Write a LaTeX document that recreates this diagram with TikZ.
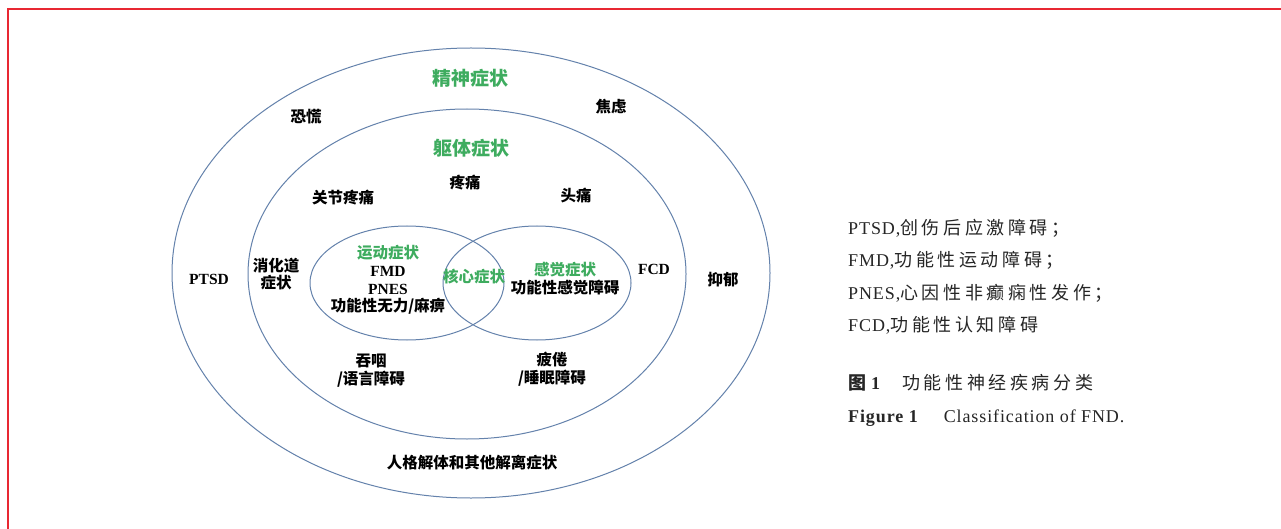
\documentclass[tikz,border=0pt]{standalone}
\usepackage{fontspec}
\setmainfont{Liberation Serif}
\newfontfamily\cjk{Noto Sans CJK SC}
\newfontfamily\cjkls[LetterSpace=20]{Noto Sans CJK SC}
\newfontfamily\serls[LetterSpace=5]{Liberation Serif}
\definecolor{fndgreen}{RGB}{62,172,95}
\definecolor{ringcol}{RGB}{100,130,172}
\definecolor{framered}{RGB}{232,40,50}
\newcommand\lt[1]{{\rmfamily\bfseries #1}}
\tikzset{
  lbl/.style={font=\cjk\bfseries\fontsize{15.5}{17.7}\selectfont, align=center, inner sep=0pt, text=black},
  grn/.style={lbl, text=fndgreen},
  title/.style={grn, font=\cjk\bfseries\fontsize{19}{21}\selectfont},
  ring/.style={draw=ringcol, line width=1pt},
  note/.style={anchor=west, inner sep=0pt, font=\fontsize{18}{20}\selectfont, text=black!85},
}
\begin{document}
\begin{tikzpicture}[x=1pt,y=-1pt]
\useasboundingbox (0,0) rectangle (1281,529);
\fill[white] (0,0) rectangle (1281,529);
% frame
\draw[framered, line width=2.2pt] (8,529) -- (8,9) -- (1281,9);
% rings
\draw[ring] (471,273) ellipse [x radius=299pt, y radius=225pt];
\draw[ring] (467,274) ellipse [x radius=219pt, y radius=165pt];
\draw[ring] (407,283) ellipse [x radius=97pt, y radius=57pt];
\draw[ring] (537,283) ellipse [x radius=94pt, y radius=57pt];
% labels
\node[title] (psy) at (470,78) {精神症状};
\node[lbl] (panic) at (306,117) {恐慌};
\node[lbl] (anx) at (611,107) {焦虑};
\node[title] (som) at (471,148) {躯体症状};
\node[lbl] (pain) at (465,183) {疼痛};
\node[lbl] (joint) at (343,198) {关节疼痛};
\node[lbl] (head) at (576,196) {头痛};
\node[lbl] (gi) at (276,274) {消化道\\症状};
\node[lbl] (ptsd) at (209,279) {\lt{PTSD}};
\node[lbl] (motor) at (388,280) {\textcolor{fndgreen}{运动症状}\\\lt{FMD}\\\lt{PNES}\\功能性无力/麻痹};
\node[grn] (core) at (474,277) {核心症状};
\node[lbl] (sens) at (565,278.5) {\textcolor{fndgreen}{感觉症状}\\功能性感觉障碍};
\node[lbl] (fcd) at (654,269) {\lt{FCD}};
\node[lbl] (dep) at (723,280) {抑郁};
\node[lbl] (swal) at (371,370.5) {吞咽\\/语言障碍};
\node[lbl] (fat) at (552,369.5) {疲倦\\/睡眠障碍};
\node[lbl] (dis) at (472,463) {人格解体和其他解离症状};
% notes
\node[note] (n1) at (848,228) {{\serls PTSD,}{\cjkls 创伤后应激障碍；}};
\node[note] (n2) at (848,260) {{\serls FMD,}{\cjkls 功能性运动障碍；}};
\node[note] (n3) at (848,293) {{\serls PNES,}{\cjkls 心因性非癫痫性发作；}};
\node[note] (n4) at (848,325) {{\serls FCD,}{\cjkls 功能性认知障碍}};
\node[note] (c1) at (848,383) {{\cjkls\bfseries 图}\hspace{5pt}{\serls\bfseries 1}\hspace{22pt}{\cjkls 功能性神经疾病分类}};
\node[note] (c2) at (848,418) {{\serls\bfseries Figure 1}\hspace{26pt}{\serls Classification of FND.}};
\end{tikzpicture}
\end{document}
